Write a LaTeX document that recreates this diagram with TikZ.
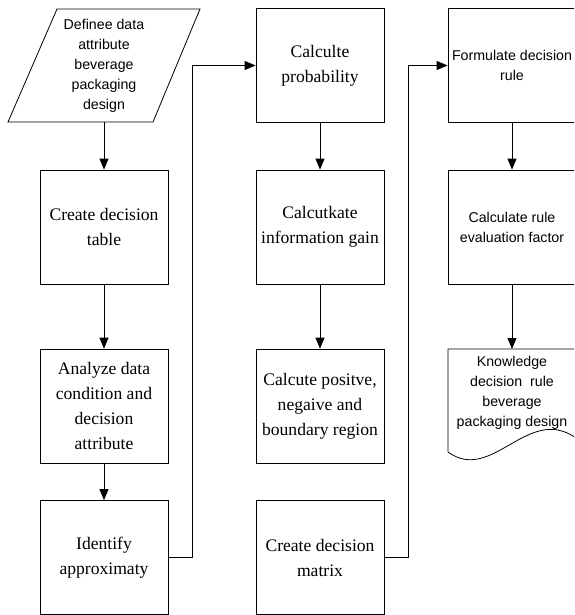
\documentclass[tikz,border=0pt]{standalone}
\usepackage{fontspec}
\setmainfont{Liberation Serif}
\newfontfamily\arialfont{Liberation Sans}
\usetikzlibrary{arrows.meta}
\begin{document}
\begin{tikzpicture}[x=1pt,y=-1pt,
  line width=0.8pt,
  serifbox/.style={draw, rectangle, minimum width=128pt, minimum height=114pt, inner sep=0pt,
    align=center, font=\fontsize{17.6}{25}\selectfont},
  sansbox/.style={draw, rectangle, minimum width=128pt, minimum height=114pt, inner sep=0pt,
    align=center, font=\arialfont\fontsize{14.2}{20}\selectfont},
  sanstext/.style={inner sep=0pt, align=center, font=\arialfont\fontsize{14.2}{20}\selectfont},
  arr/.style={-{Triangle[length=11pt,width=9pt]}}]
\useasboundingbox (0,0) rectangle (574,615);
\clip (0,0) rectangle (574,615);
% column 1
\draw (8,122) -- (153,122) -- (200,9) -- (57,9) -- cycle;
\node[sanstext, minimum width=128pt, minimum height=113pt] (define) at (104,65.5)
  {Definee data\\attribute\\beverage\\packaging\\design};
\node[serifbox] (table) at (104,227) {Create decision\\table};
\node[serifbox] (analyze) at (104,406) {Analyze data\\condition and\\decision\\attribute};
\node[serifbox] (identify) at (104,557.5) {Identify\\approximaty};
% column 2
\node[serifbox] (prob) at (320,65.5) {Calculte\\probability};
\node[serifbox] (gain) at (320,227) {Calcutkate\\information gain};
\node[serifbox] (region) at (320,406) {Calcute positve,\\negaive and\\boundary region};
\node[serifbox] (matrix) at (320,557.5) {Create decision\\matrix};
% column 3
\node[sansbox] (rule) at (512,65.5) {Formulate decision\\rule};
\node[sansbox] (factor) at (512,227) {Calculate rule\\evaluation factor};
\draw (448,452) -- (448,349) -- (576,349) -- (576,438)
  .. controls (528,404) and (492,484) .. (448,452);
\node[sanstext, minimum width=128pt] (know) at (512,393)
  {Knowledge\\decision\ \ rule\\beverage\\packaging design};
\coordinate (docTop) at (512,349);
% connectors
\draw[arr] (define.south) -- (table.north);
\draw[arr] (table.south) -- (analyze.north);
\draw[arr] (analyze.south) -- (identify.north);
\coordinate (bendA) at (192,557.5);
\draw[arr] (identify.east) -- (bendA) |- (prob.west);
\draw[arr] (prob.south) -- (gain.north);
\draw[arr] (gain.south) -- (region.north);
\coordinate (bendB) at (408,557.5);
\draw[arr] (matrix.east) -- (bendB) |- (rule.west);
\draw[arr] (rule.south) -- (factor.north);
\draw[arr] (factor.south) -- (docTop);
\end{tikzpicture}
\end{document}
